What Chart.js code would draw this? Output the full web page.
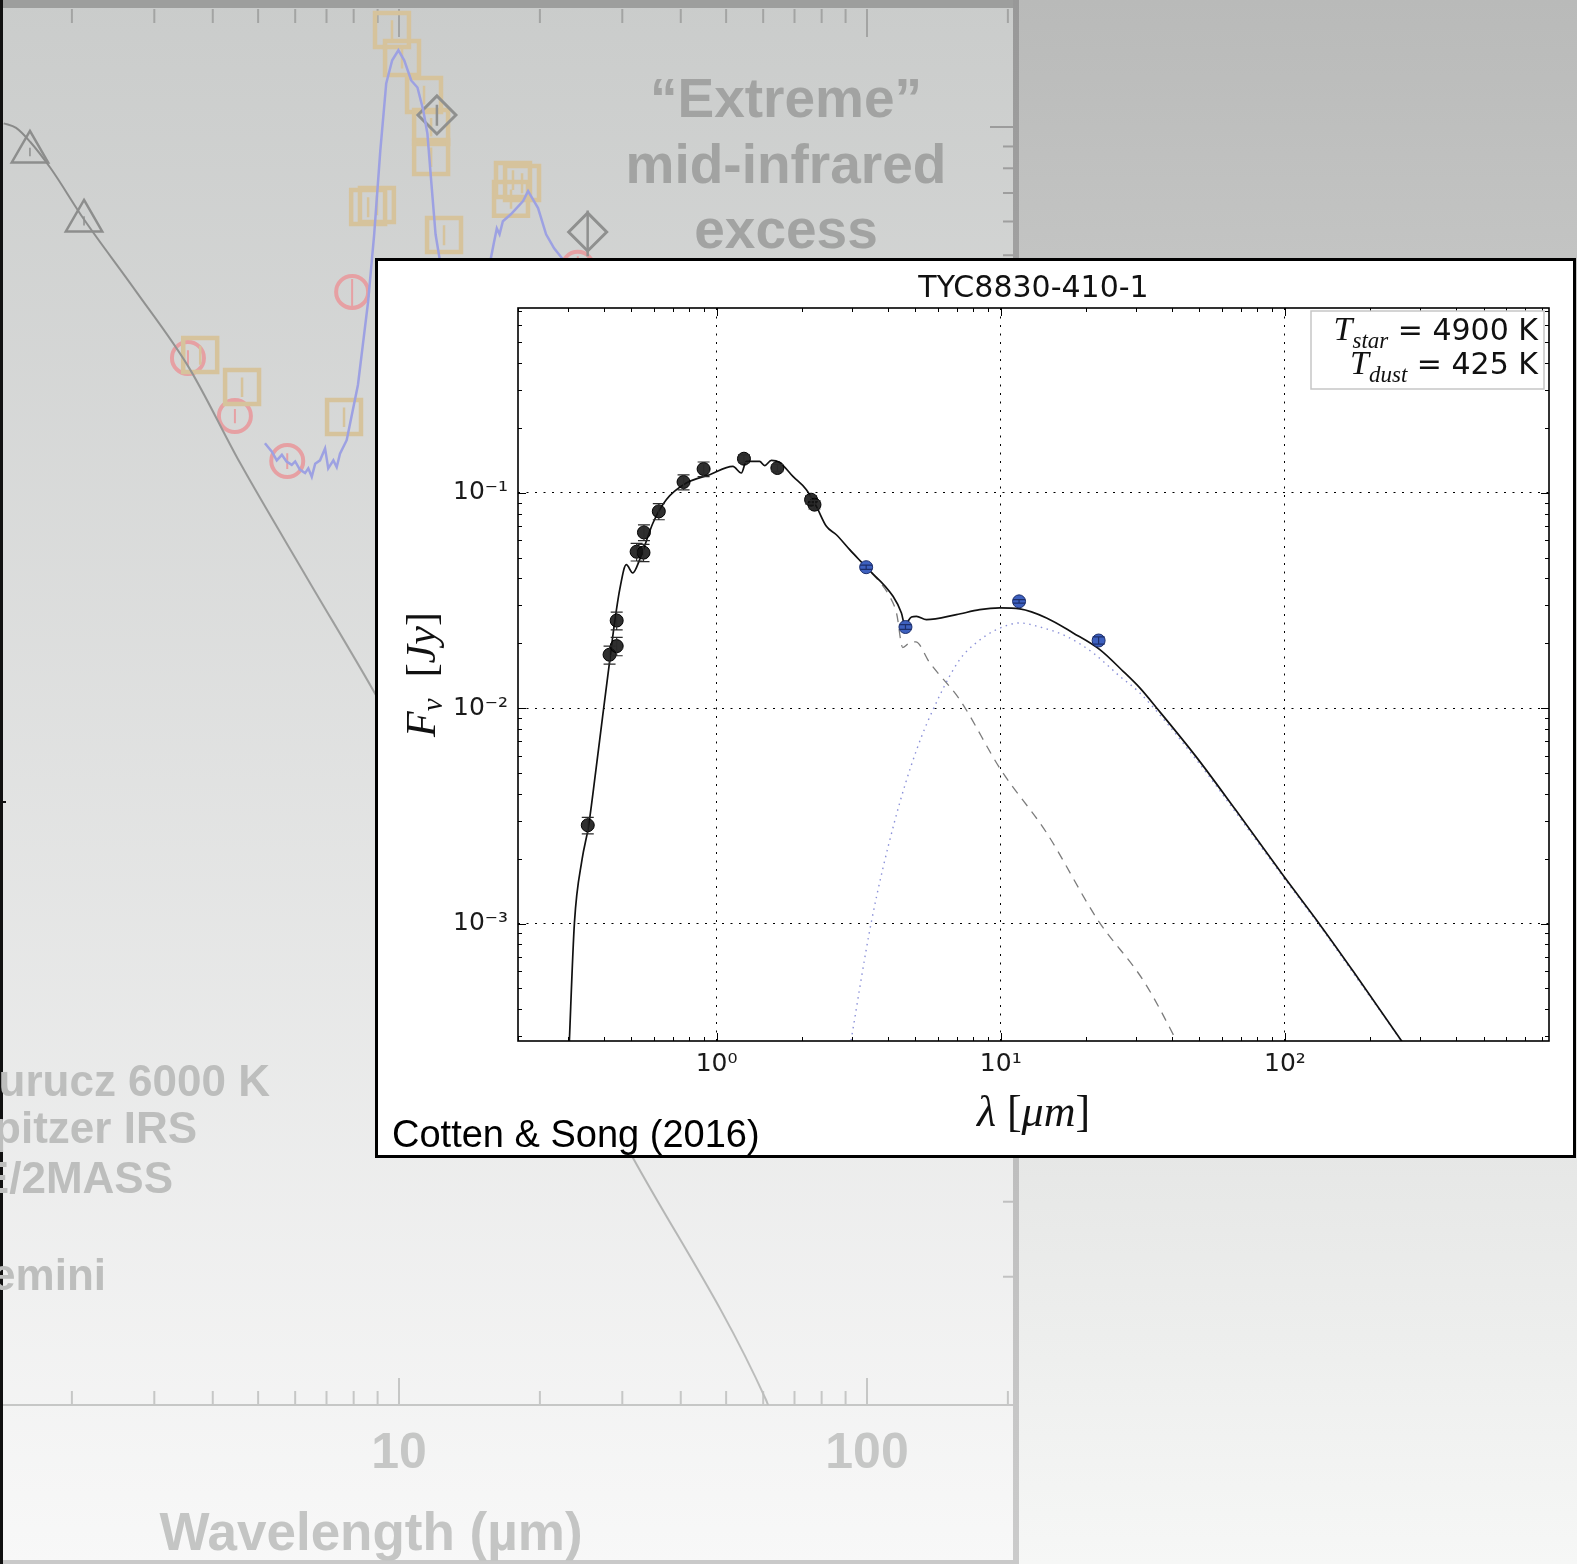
<!DOCTYPE html>
<html>
<head>
<meta charset="utf-8">
<title>TYC8830-410-1 SED</title>
<script src="https://cdn.jsdelivr.net/npm/chart.js@4.4.1/dist/chart.umd.min.js"></script>
<style>
  html, body { margin: 0; padding: 0; }
  body {
    width: 1577px; height: 1564px; position: relative; overflow: hidden;
    background: linear-gradient(to bottom, #b9bab9 0%, #f6f7f6 100%);
  }
  #bgPanel {
    position: absolute; left: 0; top: 0; width: 1019px; height: 1564px;
    background: linear-gradient(to bottom, #cacccb 0%, #f8f8f8 100%);
  }
  #bgChart { position: absolute; left: 0; top: 0; }
  #inset {
    position: absolute; left: 375px; top: 258px; width: 1201px; height: 900px;
    box-sizing: border-box; border: 3px solid #000; background: #fff;
  }
  #inset canvas { display: block; }
</style>
</head>
<body>
<div id="bgPanel"></div>
<canvas id="bgChart" width="1577" height="1564"></canvas>
<div id="inset"><canvas id="sed" width="1195" height="894"></canvas></div>

<script>
// --- Inset: Cotten & Song (2016) ---
var insetTitle = 'TYC8830-410-1';
var tStar = 4900;
var tDust = 425;

// optical / near-IR photometry (um, Jy)
var photWave = [0.352, 0.420, 0.445, 0.445, 0.523, 0.553, 0.555, 0.626, 0.765, 0.900, 1.248, 1.636, 2.15, 2.21];
var photFlux = [0.00286, 0.0177, 0.0194, 0.0255, 0.0532, 0.0527, 0.0654, 0.0819, 0.1121, 0.1288, 0.1438, 0.1302, 0.0928, 0.0880];
var photErr  = [0.00025, 0.0017, 0.0019, 0.0024, 0.0050, 0.0048, 0.0055, 0.0070, 0.0090, 0.0100, 0.0060, 0.0050, 0.0040, 0.0040];

// WISE photometry
var wiseWave = [3.36, 4.62, 11.6, 22.1];
var wiseFlux = [0.0451, 0.0238, 0.0313, 0.0206];
var wiseErr  = [0.0010, 0.0006, 0.0006, 0.0008];

// total model (star + dust)
var modelWave = [0.302, 0.316, 0.336, 0.354, 0.375, 0.397, 0.418, 0.437, 0.456, 0.481, 0.507, 0.536, 0.597, 0.665, 0.782, 0.945,
  1.141, 1.222, 1.272, 1.417, 1.476, 1.558, 1.667, 1.856, 2.07, 2.244, 2.434, 2.639, 2.94, 3.36, 4.177, 4.471, 4.592, 4.85, 5.05,
  5.474, 6.98, 8.43, 9.92, 11.67, 14.49, 17.97, 22.32, 26.96, 30.86, 35.37, 48.6, 66.95, 98.1, 135, 174.2, 255.7, 275];
var modelFlux = [0.00025, 0.00101, 0.00198, 0.00282, 0.00502, 0.00913, 0.01558, 0.02466, 0.03547, 0.04634, 0.0424, 0.04888, 0.07234,
  0.0928, 0.1109, 0.1212, 0.1324, 0.1234, 0.1397, 0.1397, 0.1335, 0.1412, 0.1382, 0.119, 0.1033, 0.0864, 0.0698, 0.0638, 0.0544,
  0.0451, 0.03303, 0.02765, 0.0244, 0.02649, 0.02667, 0.02575, 0.02716, 0.02865, 0.02917, 0.02886, 0.02621, 0.02234, 0.01869,
  0.01482, 0.01241, 0.01002, 0.00597, 0.00338, 0.001688, 0.00096, 0.000599, 0.000289, 0.000251];

// stellar photosphere (dashed)
var starWave = [2.94, 3.36, 4.07, 4.30, 4.52, 4.75, 5.02, 5.62, 7.17, 10.0, 14.48, 21.9, 32.1, 41.5, 45];
var starFlux = [0.0544, 0.0451, 0.0329, 0.0275, 0.0191, 0.0200, 0.0203, 0.01626, 0.01095, 0.00518, 0.002645, 0.001044, 0.000532, 0.000286, 0.00023];

// dust blackbody (dotted)
var dustWave = [2.95, 3.50, 4.22, 5.06, 6.0, 7.17, 8.21, 9.66, 11.67, 13.72, 17.03, 21.13, 26.24, 30.86, 48.6, 66.95, 98.1, 135, 174.2, 255.7, 275];
var dustFlux = [0.00027, 0.00101, 0.00294, 0.00642, 0.01095, 0.0168, 0.02014, 0.02313, 0.02485, 0.0238, 0.02154, 0.01804, 0.01405,
  0.01176, 0.0058, 0.0033, 0.00166, 0.000945, 0.000587, 0.000287, 0.000249];

var insetXTicks = [1, 10, 100];
var insetXLabels = ['10\u2070', '10\u00B9', '10\u00B2'];
var insetYTicks = [0.001, 0.01, 0.1];
var insetYLabels = ['10\u207B\u00B3', '10\u207B\u00B2', '10\u207B\u00B9'];

// --- Background: faded older SED ---
var bgKuruczWave = [1.43, 1.52, 1.63, 1.80, 2.12, 2.73, 3.56, 4.57, 6.36, 8.80, 31.8, 60.8, 62.1];
var bgKuruczFlux = [1.02, 0.995, 0.922, 0.801, 0.608, 0.414, 0.272, 0.163, 0.0874, 0.0477, 0.00376, 0.00103, 0.00097];

var bgIrsWave = [5.17, 5.35, 5.48, 5.62, 5.75, 5.90, 6.00, 6.14, 6.30, 6.40, 6.51, 6.62, 6.78, 6.95, 7.06, 7.24, 7.36, 7.48, 7.73,
  8.17, 8.59, 8.85, 9.12, 9.39, 9.67, 9.97, 10.26, 10.62, 10.95, 11.27, 11.50, 11.73, 11.97, 12.21, 13.0, 14.5,
  15.71, 15.95, 16.18, 16.4, 16.67, 17.34, 18.41, 18.87, 19.82, 20.62, 21.45, 22.33, 23.5];
var bgIrsFlux = [0.181, 0.173, 0.165, 0.170, 0.164, 0.161, 0.164, 0.157, 0.154, 0.158, 0.151, 0.162, 0.165, 0.176, 0.158, 0.165, 0.159, 0.171, 0.184,
  0.248, 0.389, 0.560, 0.879, 1.265, 1.434, 1.514, 1.434, 1.286, 1.238, 1.093, 0.964, 0.735, 0.560, 0.491, 0.30, 0.30,
  0.491, 0.535, 0.578, 0.560, 0.601, 0.624, 0.670, 0.707, 0.645, 0.560, 0.519, 0.491, 0.42];

var bgTriWave = [1.627, 2.123];
var bgTriFlux = [0.874, 0.602];
var bgTriErr  = [0.02, 0.015];

var bgCircWave = [3.54, 4.46, 5.77, 7.94, 24.1];
var bgCircFlux = [0.287, 0.2097, 0.1644, 0.41, 0.467];
var bgCircErr  = [0.012, 0.008, 0.007, 0.03, 0.03];

var bgSqWave = [3.76, 4.62, 7.63, 8.59, 8.97, 9.66, 10.15, 11.31, 11.71, 11.71, 12.48, 17.35, 17.52, 18.32];
var bgSqFlux = [0.2916, 0.2453, 0.2086, 0.649, 0.656, 1.69, 1.452, 1.189, 1.0, 0.85, 0.558, 0.678, 0.751, 0.739];
var bgSqErr  = [0.015, 0.013, 0.011, 0.035, 0.035, 0.09, 0.08, 0.06, 0.05, 0.045, 0.03, 0.035, 0.04, 0.04];

var bgDiaWave = [12.05, 25.3];
var bgDiaFlux = [1.067, 0.567];
var bgDiaErr  = [0.06, 0.07];

var bgXTicks = [10, 100];
var bgXLabels = ['10', '100'];
var bgLegend = ['Kurucz 6000 K', 'Spitzer IRS', 'WISE/2MASS', 'Gemini'];
var bgNote = ['\u201CExtreme\u201D', 'mid-infrared', 'excess'];


// --- helpers ---
function pts(xs, ys) {
  var out = [];
  for (var i = 0; i < xs.length; i++) out.push({ x: xs[i], y: ys[i] });
  return out;
}

// every 1..9 x 10^k inside [lo, hi], flagged major when it is a decade
function logTicks(lo, hi) {
  var out = [];
  for (var d = Math.floor(Math.log10(lo)); d <= Math.ceil(Math.log10(hi)); d++) {
    for (var m = 1; m < 10; m++) {
      var v = m * Math.pow(10, d);
      if (v >= lo * 0.9999 && v <= hi * 1.0001) out.push({ v: v, major: m === 1 });
    }
  }
  return out;
}

function drawParts(c, parts, x, y, align) {
  var w = 0;
  parts.forEach(function(p) { c.font = p[1]; w += c.measureText(p[0]).width; });
  var cx = align === 'right' ? x - w : (align === 'center' ? x - w / 2 : x);
  c.textAlign = 'left';
  parts.forEach(function(p) {
    c.font = p[1];
    c.fillText(p[0], cx, y + (p[2] || 0));
    cx += c.measureText(p[0]).width;
  });
}

// error bars for any dataset carrying errY
var errorBars = {
  id: 'errorBars',
  afterDatasetDraw: function(chart, args) {
    var ds = chart.data.datasets[args.index];
    if (!ds.errY) return;
    var c = chart.ctx, sy = chart.scales.y, cap = ds.errCap || 0;
    c.save();
    c.strokeStyle = ds.errColor || '#000';
    c.lineWidth = ds.errWidth || 1;
    c.beginPath();
    args.meta.data.forEach(function(el, i) {
      var lo = sy.getPixelForValue(ds.data[i].y - ds.errY[i]);
      var hi = sy.getPixelForValue(ds.data[i].y + ds.errY[i]);
      c.moveTo(el.x, lo); c.lineTo(el.x, hi);
      if (cap) {
        c.moveTo(el.x - cap, lo); c.lineTo(el.x + cap, lo);
        c.moveTo(el.x - cap, hi); c.lineTo(el.x + cap, hi);
      }
    });
    c.stroke();
    c.restore();
  }
};

Chart.defaults.font.family = '"DejaVu Sans", sans-serif';


// --------- Background chart ----------------
function fadeGray(y) {
  var v = Math.round(152 + 52 * y / 1564);
  return 'rgb(' + v + ',' + v + ',' + v + ')';
}

var bgDecor = {
  id: 'bgDecor',
  beforeDatasetsDraw: function(chart) {
    var c = chart.ctx, a = chart.chartArea, sx = chart.scales.x, sy = chart.scales.y;
    c.save();
    // frame
    c.fillStyle = '#9d9e9d';
    c.fillRect(0, 0, 1019, 8);
    var g = c.createLinearGradient(0, 0, 0, 1564);
    g.addColorStop(0, '#989898'); g.addColorStop(1, '#cbcbcb');
    c.fillStyle = g;
    c.fillRect(a.right, 0, 6, 1564);
    c.fillStyle = '#c9c9c9';
    c.fillRect(0, 1560, 1019, 4);
    c.fillStyle = '#c6c7c6';
    c.fillRect(0, a.bottom - 1, a.right, 2);

    c.lineWidth = 2;
    logTicks(sx.min, sx.max).forEach(function(t) {
      var px = sx.getPixelForValue(t.v);
      c.strokeStyle = '#a3a4a3';
      c.beginPath(); c.moveTo(px, a.top + 1); c.lineTo(px, a.top + (t.major ? 29 : 15)); c.stroke();
      c.strokeStyle = '#c6c7c6';
      c.beginPath(); c.moveTo(px, a.bottom); c.lineTo(px, a.bottom - (t.major ? 27 : 14)); c.stroke();
    });
    logTicks(sy.min, sy.max).forEach(function(t) {
      var py = sy.getPixelForValue(t.v);
      c.strokeStyle = fadeGray(py);
      c.beginPath(); c.moveTo(a.right, py); c.lineTo(a.right - (t.major ? 23 : 10), py); c.stroke();
    });

    // left edge line
    c.fillStyle = '#111';
    c.fillRect(0, 0, 3, 1564);
    c.fillRect(0, 801, 6, 2);
    c.restore();
  },
  afterDatasetsDraw: function(chart) {
    var c = chart.ctx, sx = chart.scales.x;
    c.save();
    c.textBaseline = 'alphabetic';
    c.textAlign = 'center';
    c.fillStyle = '#a2a3a2';
    c.font = 'bold 55px "Liberation Sans"';
    c.fillText(bgNote[0], 786, 117);
    c.fillText(bgNote[1], 786, 183);
    c.fillText(bgNote[2], 786, 248);

    c.fillStyle = '#c6c7c6';
    c.font = 'bold 50px "Liberation Sans"';
    bgXTicks.forEach(function(v, i) { c.fillText(bgXLabels[i], sx.getPixelForValue(v), 1468); });
    c.fillStyle = '#c4c5c4';
    c.font = 'bold 53px "Liberation Sans"';
    c.fillText('Wavelength (\u00B5m)', 371, 1550);

    // legend, cut off by the left edge
    c.textAlign = 'right';
    c.fillStyle = '#bdbebd';
    c.font = 'bold 44px "Liberation Sans"';
    c.fillText(bgLegend[0], 270, 1096);
    c.fillText(bgLegend[1], 197, 1143);
    c.fillText(bgLegend[2], 173, 1193);
    c.fillText(bgLegend[3], 106, 1290);
    c.restore();
  }
};

new Chart(document.getElementById('bgChart'), {
  type: 'scatter',
  data: {
    datasets: [
      {
        label: 'Spitzer IRS', data: pts(bgIrsWave, bgIrsFlux), showLine: true,
        borderColor: '#9da1e2', borderWidth: 2.5, pointRadius: 0
      },
      {
        label: 'Kurucz 6000 K', data: pts(bgKuruczWave, bgKuruczFlux), showLine: true, pointRadius: 0,
        borderWidth: 2, cubicInterpolationMode: 'monotone',
        borderColor: function(ctx) {
          var ch = ctx.chart;
          if (!ch.chartArea) return '#999';
          var g = ch.ctx.createLinearGradient(0, ch.chartArea.top, 0, ch.chartArea.bottom);
          g.addColorStop(0, '#848584'); g.addColorStop(1, '#bdbebd');
          return g;
        }
      },
      {
        label: 'triangles', data: pts(bgTriWave, bgTriFlux), pointStyle: 'triangle', pointRadius: 21,
        pointBorderWidth: 2.5, pointBorderColor: '#8d8e8d', pointBackgroundColor: 'rgba(0,0,0,0)',
        errY: bgTriErr, errColor: '#8d8e8d', errWidth: 1.5
      },
      {
        label: 'diamonds', data: pts(bgDiaWave, bgDiaFlux), pointStyle: 'rectRot', pointRadius: 19,
        pointBorderWidth: 3, pointBorderColor: '#8f908f', pointBackgroundColor: 'rgba(0,0,0,0)',
        errY: bgDiaErr, errColor: '#8f908f', errWidth: 2.5
      },
      {
        label: 'squares', data: pts(bgSqWave, bgSqFlux), pointStyle: 'rect', pointRadius: 24,
        pointBorderWidth: 4.5, pointBorderColor: '#d6c39c', pointBackgroundColor: 'rgba(0,0,0,0)',
        errY: bgSqErr, errColor: '#d6c39c', errWidth: 2.5
      },
      {
        label: 'circles', data: pts(bgCircWave, bgCircFlux), pointStyle: 'circle', pointRadius: 16,
        pointBorderWidth: 4, pointBorderColor: '#e6a0a3', pointBackgroundColor: 'rgba(0,0,0,0)',
        errY: bgCircErr, errColor: '#e6a0a3', errWidth: 2
      }
    ]
  },
  options: {
    responsive: false,
    animation: false,
    devicePixelRatio: 1,
    layout: { autoPadding: false, padding: { left: 3, top: 8, right: 564, bottom: 159 } },
    plugins: { legend: { display: false }, tooltip: { enabled: false } },
    scales: {
      x: { type: 'logarithmic', display: false, min: 1.425, max: 205.1 },
      y: { type: 'logarithmic', display: false, min: 0.001, max: 1.9025 }
    }
  },
  plugins: [errorBars, bgDecor]
});


// --------- Inset chart ----------------
var serif = '"Liberation Serif", "DejaVu Serif", serif';

var insetFrame = {
  id: 'insetFrame',
  afterDatasetsDraw: function(chart) {
    var c = chart.ctx, a = chart.chartArea, sx = chart.scales.x, sy = chart.scales.y;
    c.save();
    c.strokeStyle = '#000';
    c.lineWidth = 1;
    c.beginPath();
    logTicks(sx.min, sx.max).forEach(function(t) {
      var px = Math.round(sx.getPixelForValue(t.v)) + 0.5, len = t.major ? 8 : 4;
      c.moveTo(px, a.bottom); c.lineTo(px, a.bottom - len);
      c.moveTo(px, a.top); c.lineTo(px, a.top + len);
    });
    logTicks(sy.min, sy.max).forEach(function(t) {
      var py = Math.round(sy.getPixelForValue(t.v)) + 0.5, len = t.major ? 8 : 4;
      c.moveTo(a.left, py); c.lineTo(a.left + len, py);
      c.moveTo(a.right, py); c.lineTo(a.right - len, py);
    });
    c.stroke();
    c.lineWidth = 1.6;
    c.strokeRect(a.left, a.top, a.right - a.left, a.bottom - a.top);
    c.restore();
  }
};

var insetText = {
  id: 'insetText',
  afterDraw: function(chart) {
    var c = chart.ctx, a = chart.chartArea;
    c.save();
    c.textBaseline = 'alphabetic';
    c.fillStyle = '#111';

    // title
    c.font = '30px "DejaVu Sans"';
    c.textAlign = 'center';
    c.fillText(insetTitle, (a.left + a.right) / 2, 36);

    // temperature box
    var bx = a.right - 238, by = a.top + 3;
    c.fillStyle = '#fff';
    c.fillRect(bx, by, 233, 78);
    c.strokeStyle = '#c6c6c6';
    c.lineWidth = 1.5;
    c.strokeRect(bx, by, 233, 78);
    c.fillStyle = '#111';
    drawParts(c, [['T', 'italic 34px ' + serif], ['star', 'italic 23px ' + serif, 8],
      [' = ' + tStar + ' K', '30px "DejaVu Sans"']], a.right - 11, a.top + 32, 'right');
    drawParts(c, [['T', 'italic 34px ' + serif], ['dust', 'italic 23px ' + serif, 8],
      [' = ' + tDust + ' K', '30px "DejaVu Sans"']], a.right - 11, a.top + 66, 'right');

    // axis titles
    drawParts(c, [['\u03BB', 'italic 44px ' + serif], [' [', '44px ' + serif], ['\u03BCm', 'italic 44px ' + serif],
      [']', '44px ' + serif]], (a.left + a.right) / 2, 865, 'center');

    c.save();
    c.translate(57, (a.top + a.bottom) / 2);
    c.rotate(-Math.PI / 2);
    drawParts(c, [['F', 'italic 42px ' + serif], ['\u03BD', 'italic 29px ' + serif, 7], ['  [', '42px ' + serif],
      ['Jy', 'italic 42px ' + serif], [']', '42px ' + serif]], 0, 0, 'center');
    c.restore();

    // citation
    c.font = '38px "Liberation Sans"';
    c.textAlign = 'left';
    c.fillStyle = '#000';
    c.fillText('Cotten & Song (2016)', 14, 886);
    c.restore();
  }
};

new Chart(document.getElementById('sed'), {
  type: 'scatter',
  data: {
    datasets: [
      {
        label: 'photometry', data: pts(photWave, photFlux), pointRadius: 6.5,
        pointBackgroundColor: 'rgba(18,18,18,0.88)', pointBorderColor: '#000', pointBorderWidth: 1,
        errY: photErr, errCap: 6, errColor: '#2a2a2a', errWidth: 1.2
      },
      {
        label: 'WISE', data: pts(wiseWave, wiseFlux), pointRadius: 6.5,
        pointBackgroundColor: '#3d60bf', pointBorderColor: '#1c2e6c', pointBorderWidth: 1,
        errY: wiseErr, errCap: 6, errColor: '#1c2e6c', errWidth: 1.2
      },
      {
        label: 'star + dust', data: pts(modelWave, modelFlux), showLine: true, pointRadius: 0,
        borderColor: '#111', borderWidth: 1.7, cubicInterpolationMode: 'monotone'
      },
      {
        label: 'star', data: pts(starWave, starFlux), showLine: true, pointRadius: 0,
        borderColor: '#7c7c7c', borderWidth: 1.3, borderDash: [9, 7], cubicInterpolationMode: 'monotone'
      },
      {
        label: 'dust', data: pts(dustWave, dustFlux), showLine: true, pointRadius: 0,
        borderColor: '#8b91d8', borderWidth: 1.4, borderDash: [1.5, 4.5], cubicInterpolationMode: 'monotone'
      }
    ]
  },
  options: {
    responsive: false,
    animation: false,
    devicePixelRatio: 1,
    layout: { autoPadding: false, padding: { left: 0, top: 47, right: 24, bottom: 0 } },
    plugins: { legend: { display: false }, tooltip: { enabled: false } },
    scales: {
      x: {
        type: 'logarithmic', position: 'bottom', min: 0.2, max: 850,
        afterBuildTicks: function(axis) { axis.ticks = insetXTicks.map(function(v) { return { value: v }; }); },
        afterFit: function(axis) { axis.height = 114; },
        ticks: {
          autoSkip: false, maxRotation: 0, padding: 8, color: '#1a1a1a', font: { size: 25 },
          callback: function(v, i) { return insetXLabels[i]; }
        },
        grid: { color: '#000', lineWidth: 1, drawTicks: false },
        border: { display: false, dash: [2, 6.5] }
      },
      y: {
        type: 'logarithmic', position: 'left', min: 2.85e-4, max: 0.72,
        afterBuildTicks: function(axis) { axis.ticks = insetYTicks.map(function(v) { return { value: v }; }); },
        afterFit: function(axis) { axis.width = 140; },
        ticks: {
          autoSkip: false, padding: 10, color: '#1a1a1a', font: { size: 25 },
          callback: function(v, i) { return insetYLabels[i]; }
        },
        grid: { color: '#000', lineWidth: 1, drawTicks: false },
        border: { display: false, dash: [2, 6.5] }
      }
    }
  },
  plugins: [errorBars, insetFrame, insetText]
});
</script>
</body>
</html>
